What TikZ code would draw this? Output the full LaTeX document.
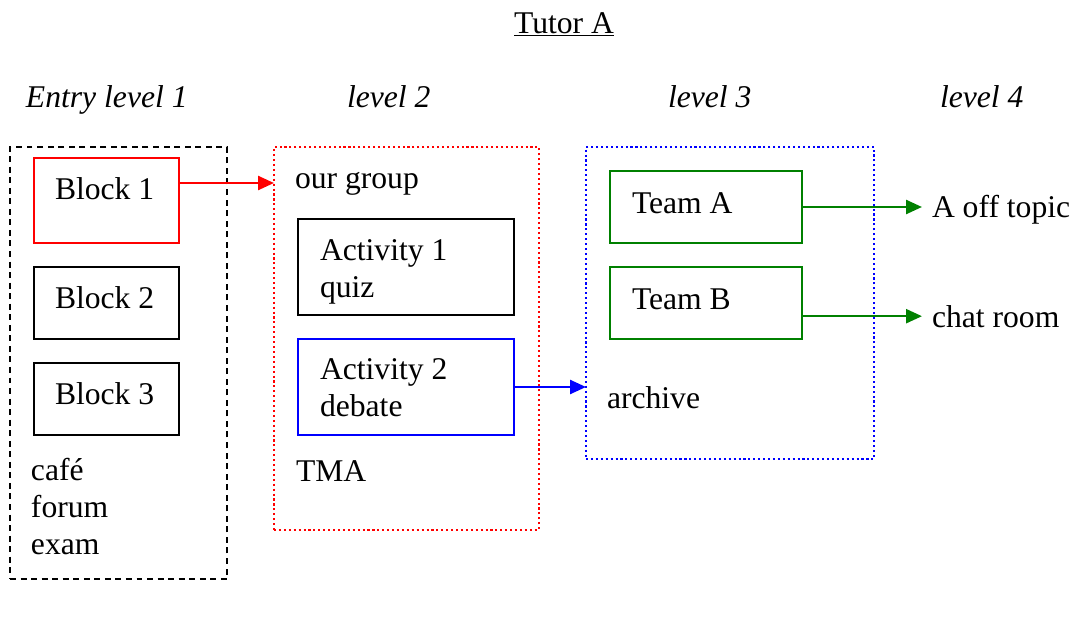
\documentclass[tikz,border=0pt]{standalone}
\usepackage{fontspec}
\setmainfont{Liberation Serif}
\usepackage{xcolor}
\usepackage{tikz}
\usetikzlibrary{arrows.meta}
\definecolor{teamgreen}{RGB}{0,128,0}

\begin{document}
\begin{tikzpicture}[x=0.02cm, y=-0.02cm, line width=1.4pt,
    every node/.style={inner sep=0pt, outer sep=0pt},
    txt/.style={anchor=base west, align=left},
    box/.style={draw, anchor=north west, minimum width=2.9cm, minimum height=1.44cm},
    actbox/.style={box, minimum width=4.32cm, minimum height=1.92cm},
    teambox/.style={box, draw=teamgreen, minimum width=3.84cm},
    grp/.style={anchor=north west, draw, dash pattern=on 1.2pt off 1.6pt},
    arr/.style={-{Triangle[length=0.32cm, width=0.28cm]}}]
      \fontsize{18}{21}\selectfont % 18pt serif text
      \useasboundingbox (0,0) rectangle (1076,620);

      % headings
      \node[anchor=base] at (564, 33) (title) {\underline{Tutor A}};
      \node[txt] at (26, 107) (L1) {\itshape Entry level 1};
      \node[txt] at (347, 107) (L2) {\itshape level 2};
      \node[txt] at (668, 107) (L3) {\itshape level 3};
      \node[txt] at (940, 107) (L4) {\itshape level 4};

      % level 1
      \node[grp, dash pattern=on 3.4pt off 2.6pt] at (10, 147) (grp1)
        [minimum width=4.34cm, minimum height=8.64cm] {};
      \node[box, draw=red, minimum height=1.7cm] at (34, 158) (B1) {};
      \node[box] at (34, 267) (B2) {};
      \node[box] at (34, 363) (B3) {};
      \node[txt] at (55, 199) (B1t) {Block 1};
      \node[txt] at (55, 308) (B2t) {Block 2};
      \node[txt] at (55, 404) (B3t) {Block 3};
      \node[txt] at (31, 554) (cafe) {café\\forum\\exam}; % base = last line

      % level 2
      \node[grp, draw=red] at (274, 147) (grp2)
        [minimum width=5.3cm, minimum height=7.66cm] {};
      \node[txt] at (295, 188) (ourgroup) {our group};
      \node[actbox] at (298, 219) (A1) {};
      \node[actbox, draw=blue] at (298, 339) (A2) {};
      \node[txt] at (320, 297) (A1t) {Activity 1\\quiz};
      \node[txt] at (320, 416) (A2t) {Activity 2\\debate};
      \node[txt] at (296, 481) (tma) {TMA};

      % level 3
      \node[grp, draw=blue] at (586, 147) (grp3)
        [minimum width=5.76cm, minimum height=6.24cm] {};
      \node[teambox] at (610, 171) (TA) {};
      \node[teambox] at (610, 267) (TB) {};
      \node[txt] at (632, 213) (TAt) {Team A};
      \node[txt] at (632, 309) (TBt) {Team B};
      \node[txt] at (607, 408) (archive) {archive};

      % level 4
      \node[txt, inner xsep=0.2cm] at (922, 217) (offtopic) {A off topic};
      \node[txt, inner xsep=0.2cm] at (922, 327) (chat) {chat room};

      \draw[arr, red] ([yshift=-0.5cm]B1.north east) coordinate (a1) -- (a1 -| grp2.west);
      \draw[arr, blue] (A2.east) -- (A2.east -| grp3.west);
      \draw[arr, teamgreen] (TA.east) -- (TA.east -| offtopic.west);
      \draw[arr, teamgreen] (TB.east |- chat.west) -- (chat.west);
  \end{tikzpicture}
\end{document}
